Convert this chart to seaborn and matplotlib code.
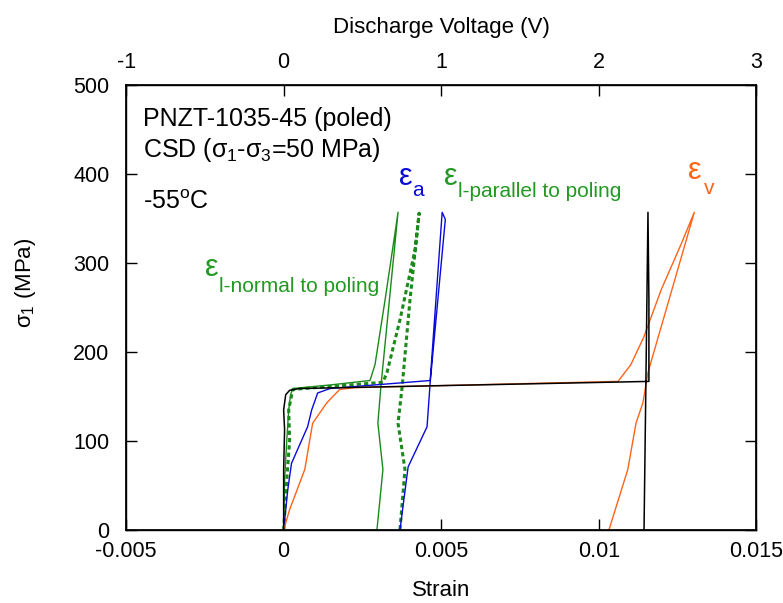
import numpy as np
import pandas as pd
import matplotlib
matplotlib.use("Agg")
import matplotlib.pyplot as plt
import seaborn as sns

# ---------------- data ----------------
# eps_l normal to poling (green solid)
normal_strain = [0, 0.00003, 0.0001, 0.00016, 0.00022, 0.00029, 0.00147, 0.00274, 0.0029, 0.00322, 0.00363,
                 0.00309, 0.00299, 0.00315, 0.00296]
normal_stress = [0, 56, 101, 135, 152, 159, 163, 168, 186, 259, 357,
                 163, 120, 68, 0]
# eps_l parallel to poling (green dashed)
parallel_strain = [0, 0.0001, 0.00019, 0.00016, 0.00029, 0.00315, 0.00328, 0.00369, 0.00417, 0.0043,
                   0.00401, 0.00376, 0.00363, 0.00385, 0.00369]
parallel_stress = [0, 56, 101, 135, 158, 166, 177, 236, 315, 356,
                   259, 161, 120, 68, 0]
# eps_a (blue)
axial_strain = [0, 0.00013, 0.00025, 0.00076, 0.00089, 0.00108, 0.00147, 0.00465, 0.00503,
                0.00513, 0.00465, 0.00455, 0.00395, 0.00369]
axial_stress = [0, 45, 75, 116, 135, 154, 159, 168, 357,
                349, 166, 116, 71, 0]
# eps_v (orange)
vol_strain = [0, 0.00019, 0.00067, 0.00092, 0.00137, 0.00178, 0.00226, 0.01061, 0.01102, 0.01143, 0.01198,
              0.01261, 0.01303, 0.01156, 0.0114, 0.01118, 0.01092, 0.01032]
vol_stress = [0, 23, 68, 120, 143, 158, 160, 167, 186, 217, 270,
              321, 357, 177, 143, 120, 68, 0]
# discharge voltage (black, top axis)
volt = [0, 0, 0.006, 0, 0.013, 0.038, 0.102, 2.318, 2.318, 2.312, 2.299, 2.287]
volt_stress = [0, 68, 113, 135, 152, 157, 159, 167, 259, 357, 167, 0]

x_ticks = [-0.005, 0, 0.005, 0.01, 0.015]
x_ticklabels = ["-0.005", "0", "0.005", "0.01", "0.015"]
top_ticks = [-1, 0, 1, 2, 3]
y_ticks = [0, 100, 200, 300, 400, 500]

# ---------------- style ----------------
sns.set_theme(style="ticks")
plt.rcParams["font.family"] = ["Liberation Sans", "DejaVu Sans"]
plt.rcParams["mathtext.fontset"] = "custom"
plt.rcParams["mathtext.rm"] = "Liberation Sans"
plt.rcParams["mathtext.it"] = "Liberation Sans"
plt.rcParams["mathtext.bf"] = "Liberation Sans:bold"
plt.rcParams["axes.unicode_minus"] = False
for k in ["text.color", "axes.labelcolor", "xtick.color", "ytick.color", "axes.edgecolor"]:
    plt.rcParams[k] = "black"

GREEN = "#1a8a1a"
GREEN_T = "#229922"
BLUE = "#0a0ad8"
ORANGE = "#ff6318"

fig = plt.figure(figsize=(7.83, 6.03), dpi=100)
ax = fig.add_axes([0.161, 0.121, 0.805, 0.738])

def curve(xs, ys, name):
    return pd.DataFrame({"x": xs, "y": ys, "order": np.arange(len(xs)), "name": name})

sns.lineplot(data=curve(normal_strain, normal_stress, "n"), x="x", y="y", sort=False,
             estimator=None, color=GREEN, lw=1.0, ax=ax)
sns.lineplot(data=curve(parallel_strain, parallel_stress, "p"), x="x", y="y", sort=False,
             estimator=None, color=GREEN, lw=2.2, ax=ax, dashes=False)
ax.lines[-1].set_linestyle((0, (1.4, 1.0)))
sns.lineplot(data=curve(axial_strain, axial_stress, "a"), x="x", y="y", sort=False,
             estimator=None, color=BLUE, lw=1.0, ax=ax)
sns.lineplot(data=curve(vol_strain, vol_stress, "v"), x="x", y="y", sort=False,
             estimator=None, color=ORANGE, lw=1.0, ax=ax)

ax.set_xlim(-0.005, 0.015)
ax.set_ylim(0, 500)
ax.set_xticks(x_ticks)
ax.set_xticklabels(x_ticklabels)
ax.set_yticks(y_ticks)
ax.tick_params(axis="both", direction="in", length=8, width=1, labelsize=15.5,
               top=False, right=True, colors="black")
ax.tick_params(axis="x", pad=8)
ax.tick_params(axis="y", pad=12)
ax.set_xlabel("Strain", fontsize=16, labelpad=13)
ax.set_ylabel(r"$\sigma_{1}$ (MPa)", fontsize=16)
ax.yaxis.set_label_coords(-0.14, 0.555)
for s in ax.spines.values():
    s.set_linewidth(1.0)
    s.set_color("black")

ax2 = ax.twiny()
sns.lineplot(data=curve(volt, volt_stress, "V"), x="x", y="y", sort=False,
             estimator=None, color="black", lw=1.1, ax=ax2)
ax2.set_xlim(-1, 3)
ax2.set_xticks(top_ticks)
ax2.set_xticklabels([str(t) for t in top_ticks])
ax2.tick_params(axis="x", direction="in", length=8, width=1, labelsize=15.5, pad=9, colors="black")
ax2.set_xlabel("Discharge Voltage (V)", fontsize=16, labelpad=13)
ax2.set_ylim(0, 500)

# ---------------- annotations ----------------
ax.text(0.027, 0.95, "PNZT-1035-45 (poled)", transform=ax.transAxes, fontsize=18,
        va="top", ha="left")
ax.text(0.027, 0.885, r"CSD ($\sigma_{1}$-$\sigma_{3}$=50 MPa)", transform=ax.transAxes,
        fontsize=18, va="top", ha="left")
ax.text(0.027, 0.765, r"-55$^{\mathrm{o}}$C", transform=ax.transAxes, fontsize=18,
        va="top", ha="left")

def eps_label(x, y, sub, color, dx=0.00045, dy=-14):
    ax.text(x, y, "\u03b5", color=color, fontsize=22, ha="left", va="baseline")
    ax.text(x + dx, y + dy, sub, color=color, fontsize=15, ha="left", va="baseline")

eps_label(0.00367, 388, "a", BLUE, dx=0.0004, dy=-13)
eps_label(0.00508, 388, "l-parallel to poling", GREEN_T, dy=-14)
eps_label(-0.00251, 285, "l-normal to poling", GREEN_T, dy=-18)
eps_label(0.01283, 394, "v", ORANGE, dx=0.0005, dy=-17)

fig.savefig("out.png", dpi=100)
